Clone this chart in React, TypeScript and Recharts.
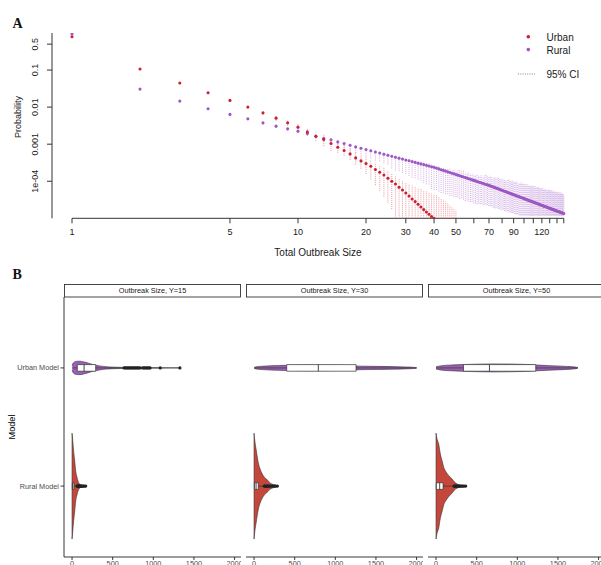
import React from 'react';
import { ComposedChart, Scatter, XAxis, YAxis, ErrorBar, ReferenceLine, Area, Line } from 'recharts';

// ---------------- Panel A data ----------------
const outbreakSizes = [
  1, 2, 3, 4, 5, 6, 7, 8, 9, 10, 11, 12, 13, 14, 15, 16, 17, 18, 19, 20,
  21, 22, 23, 24, 25, 26, 27, 28, 29, 30, 31, 32, 33, 34, 35, 36, 37, 38, 39, 40,
  41, 42, 43, 44, 45, 46, 47, 48, 49, 50, 51, 52, 53, 54, 55, 56, 57, 58, 59, 60,
  61, 62, 63, 64, 65, 66, 67, 68, 69, 70, 71, 72, 73, 74, 75, 76, 77, 78, 79, 80,
  81, 82, 83, 84, 85, 86, 87, 88, 89, 90, 91, 92, 93, 94, 95, 96, 97, 98, 99, 100,
  101, 102, 103, 104, 105, 106, 107, 108, 109, 110, 111, 112, 113, 114, 115, 116, 117, 118, 119, 120,
  121, 122, 123, 124, 125, 126, 127, 128, 129, 130, 131, 132, 133, 134, 135, 136, 137, 138, 139, 140,
  141, 142, 143, 144, 145, 146, 147, 148, 149, 150,
];

// log10(probability)
const urbanLog10P = [
  -0.100, -0.973, -1.351, -1.613, -1.819, -2.000, -2.154, -2.297, -2.424, -2.541,
  -2.668, -2.784, -2.873, -2.981, -3.081, -3.170, -3.262, -3.370, -3.451, -3.522,
  -3.595, -3.684, -3.757, -3.830, -3.919, -4.000, -4.073, -4.162, -4.235, -4.316,
  -4.397, -4.478, -4.549, -4.622, -4.695, -4.765, -4.830, -4.892, -4.954, -5.000,
  -5.06, -5.12, -5.18, -5.23, -5.29, -5.34, -5.39, -5.45, -5.50, -5.55,
];
const urbanCiUp = [
  0.01, 0.01, 0.01, 0.01, 0.01, 0.01, 0.05, 0.07, 0.06, 0.08,
  0.09, 0.10, 0.15, 0.13, 0.14, 0.15, 0.14, 0.16, 0.15, 0.17,
  0.16, 0.18, 0.17, 0.19, 0.18, 0.20, 0.21, 0.22, 0.24, 0.26,
  0.32, 0.36, 0.40, 0.44, 0.48, 0.52, 0.55, 0.58, 0.62, 0.65,
  0.68, 0.70, 0.72, 0.73, 0.74, 0.74, 0.73, 0.74, 0.74, 0.76,
];
const urbanCiDown = [
  0.01, 0.01, 0.01, 0.01, 0.01, 0.01, 0.06, 0.08, 0.08, 0.10,
  0.11, 0.13, 0.18, 0.20, 0.15, 0.14, 0.16, 0.18, 0.21, 0.28,
  0.36, 0.42, 0.50, 0.59, 0.66, 0.75, 0.88, 1.05, 1.40, 2.00,
  2.5, 2.5, 2.5, 2.5, 2.5, 2.5, 2.5, 2.5, 2.5, 2.5,
  2.5, 2.5, 2.5, 2.5, 2.5, 2.5, 2.5, 2.5, 2.5, 2.5,
];

const ruralLog10P = [
  -0.027, -1.514, -1.838, -2.046, -2.197, -2.316, -2.424, -2.514, -2.586, -2.649,
  -2.711, -2.784, -2.838, -2.883, -2.938, -2.981, -3.027, -3.073, -3.108, -3.143,
  -3.177, -3.209, -3.240, -3.270, -3.298, -3.325, -3.351, -3.377, -3.401, -3.425,
  -3.447, -3.470, -3.491, -3.512, -3.532, -3.551, -3.571, -3.589, -3.607, -3.625,
  -3.646, -3.667, -3.688, -3.708, -3.727, -3.746, -3.765, -3.783, -3.801, -3.819,
  -3.836, -3.853, -3.869, -3.886, -3.902, -3.917, -3.933, -3.948, -3.963, -3.977,
  -3.991, -4.006, -4.019, -4.033, -4.047, -4.060, -4.073, -4.086, -4.098, -4.111,
  -4.125, -4.139, -4.153, -4.166, -4.180, -4.193, -4.206, -4.219, -4.232, -4.244,
  -4.257, -4.269, -4.281, -4.293, -4.305, -4.317, -4.328, -4.340, -4.351, -4.362,
  -4.373, -4.384, -4.395, -4.405, -4.416, -4.427, -4.437, -4.447, -4.457, -4.467,
  -4.477, -4.487, -4.497, -4.506, -4.516, -4.525, -4.535, -4.544, -4.553, -4.562,
  -4.571, -4.580, -4.589, -4.598, -4.607, -4.615, -4.624, -4.633, -4.641, -4.649,
  -4.658, -4.666, -4.674, -4.682, -4.690, -4.698, -4.706, -4.714, -4.722, -4.729,
  -4.737, -4.745, -4.752, -4.760, -4.767, -4.774, -4.782, -4.789, -4.796, -4.803,
  -4.810, -4.818, -4.824, -4.832, -4.838, -4.845, -4.852, -4.859, -4.865, -4.872,
];
const ruralCiUp = [
  0.01, 0.01, 0.01, 0.01, 0.01, 0.01, 0.03, 0.03, 0.03, 0.03,
  0.03, 0.03, 0.04, 0.04, 0.04, 0.04, 0.04, 0.04, 0.04, 0.04,
  0.05, 0.05, 0.05, 0.05, 0.05, 0.03, 0.04, 0.03, 0.05, 0.04,
  0.05, 0.06, 0.05, 0.04, 0.06, 0.07, 0.08, 0.07, 0.06, 0.07,
  0.05, 0.08, 0.06, 0.07, 0.05, 0.10, 0.12, 0.09, 0.11, 0.10,
  0.14, 0.16, 0.15, 0.17, 0.13, 0.15, 0.16, 0.14, 0.17, 0.15,
  0.16, 0.18, 0.15, 0.18, 0.20, 0.17, 0.24, 0.26, 0.23, 0.25,
  0.27, 0.24, 0.26, 0.25, 0.28, 0.28, 0.30, 0.27, 0.29, 0.31,
  0.28, 0.30, 0.29, 0.32, 0.34, 0.36, 0.33, 0.35, 0.37, 0.34,
  0.36, 0.35, 0.38, 0.34, 0.36, 0.38, 0.40, 0.37, 0.39, 0.41,
  0.38, 0.40, 0.39, 0.42, 0.38, 0.40, 0.41, 0.42, 0.44, 0.41,
  0.43, 0.45, 0.42, 0.44, 0.43, 0.46, 0.42, 0.44, 0.45, 0.43,
  0.47, 0.44, 0.46, 0.45, 0.48, 0.44, 0.46, 0.47, 0.48, 0.50,
  0.47, 0.49, 0.51, 0.48, 0.50, 0.49, 0.52, 0.48, 0.50, 0.51,
  0.49, 0.53, 0.50, 0.52, 0.51, 0.54, 0.50, 0.52, 0.51, 0.50,
];
const ruralCiDown = [
  0.01, 0.01, 0.01, 0.01, 0.01, 0.01, 0.05, 0.05, 0.05, 0.05,
  0.05, 0.05, 0.10, 0.11, 0.10, 0.12, 0.15, 0.17, 0.16, 0.18,
  0.21, 0.23, 0.22, 0.24, 0.25, 0.33, 0.36, 0.34, 0.37, 0.38,
  0.41, 0.43, 0.42, 0.44, 0.45, 0.49, 0.51, 0.50, 0.60, 0.62,
  0.59, 0.61, 0.63, 0.60, 0.62, 0.60, 0.63, 0.61, 0.62, 0.60,
  0.60, 0.62, 0.59, 0.61, 0.63, 0.60, 0.62, 0.61, 0.59, 0.62,
  0.60, 0.61, 0.58, 0.58, 0.57, 0.59, 0.55, 0.57, 0.54, 0.56,
  0.55, 0.53, 0.56, 0.54, 0.55, 0.52, 0.54, 0.51, 0.53, 0.52,
  0.50, 0.53, 0.51, 0.52, 0.50, 0.52, 0.49, 0.51, 0.50, 0.48,
  0.51, 0.49, 0.50, 0.48, 0.50, 0.49, 0.48, 0.47, 0.46, 0.45,
  0.44, 0.43, 0.42, 0.41, 0.40, 0.40, 0.39, 0.38, 0.37, 0.36,
  0.35, 0.34, 0.33, 0.32, 0.31, 0.31, 0.30, 0.29, 0.28, 0.27,
  0.26, 0.25, 0.25, 0.24, 0.23, 0.22, 0.21, 0.21, 0.20, 0.19,
  0.18, 0.18, 0.17, 0.16, 0.15, 0.15, 0.14, 0.13, 0.12, 0.12,
  0.11, 0.10, 0.10, 0.09, 0.08, 0.08, 0.07, 0.06, 0.06, 0.05,
];

const sizeTicks = [1, 5, 10, 20, 30, 40, 50, 60, 70, 80, 90, 100, 110, 120, 130, 140, 150];
const sizeTickLabels = ['1', '5', '10', '20', '30', '40', '50', '', '70', '', '90', '', '', '120', '', '', ''];
const probTicks = [0.5, 0.1, 0.01, 0.001, 0.0001];
const probTickLabels = ['0.5', '0.1', '0.01', '0.001', '1e-04'];
const PROB_MIN = 1e-5;
const PROB_MAX = 1;

// ---------------- Panel B data ----------------
const facetLabels = ['Outbreak Size, Y=15', 'Outbreak Size, Y=30', 'Outbreak Size, Y=50'];
const modelCategories = ['Rural Model', 'Urban Model']; // y = 1, 2
const valueTicks = [0, 500, 1000, 1500, 2000];

// violin outlines: outbreak value -> half width (category units)
const urbanY15Values = [2, 8, 20, 40, 80, 120, 170, 220, 280, 340, 420, 500, 600, 700, 800, 900, 1000, 1100, 1200, 1327];
const urbanY15Widths = [0.018, 0.033, 0.045, 0.053, 0.057, 0.055, 0.047, 0.036, 0.025, 0.017, 0.010, 0.0068, 0.005, 0.0042, 0.0038, 0.0034, 0.0025, 0.0021, 0.0017, 0.0008];
const urbanY30Values = [2, 30, 100, 200, 300, 400, 600, 800, 1000, 1200, 1300, 1500, 1700, 1850, 1950, 2000];
const urbanY30Widths = [0.005, 0.010, 0.014, 0.018, 0.020, 0.022, 0.024, 0.024, 0.022, 0.019, 0.015, 0.013, 0.011, 0.0085, 0.006, 0.0025];
const urbanY50Values = [0, 50, 150, 300, 500, 700, 900, 1100, 1250, 1400, 1550, 1650, 1720, 1745];
const urbanY50Widths = [0.010, 0.017, 0.023, 0.028, 0.032, 0.034, 0.033, 0.030, 0.024, 0.019, 0.015, 0.011, 0.0068, 0.0025];

const ruralY15Values = [0, 4, 16, 33, 45, 60, 74, 98, 120, 145, 168];
const ruralY15Widths = [0.448, 0.423, 0.321, 0.212, 0.127, 0.076, 0.042, 0.014, 0.0085, 0.005, 0.0034];
const ruralY30Values = [0, 10, 25, 53, 75, 95, 125, 156, 200, 240, 287];
const ruralY30Widths = [0.448, 0.381, 0.313, 0.195, 0.144, 0.110, 0.076, 0.057, 0.025, 0.013, 0.0042];
const ruralY50Values = [0, 10, 33, 53, 75, 95, 125, 157, 198, 219, 260, 300, 365];
const ruralY50Widths = [0.448, 0.406, 0.355, 0.271, 0.212, 0.158, 0.118, 0.088, 0.059, 0.040, 0.017, 0.0085, 0.0034];

// box stats: [lower whisker, q1, median, q3, upper whisker]
const urbanBoxY15 = [5, 65, 148, 291, 625];
const urbanBoxY30 = [2, 402, 791, 1255, 2000];
const urbanBoxY50 = [0, 338, 657, 1227, 1745];
const ruralBoxY15 = [0, 3, 10, 25, 60];
const ruralBoxY30 = [0, 5, 25, 52, 120];
const ruralBoxY50 = [0, 3, 45, 86, 215];

const urbanOutliersY15 = [640, 655, 670, 685, 700, 715, 730, 745, 760, 775, 790, 805, 820, 837, 868, 885, 900, 915, 930, 945, 960, 1085, 1327];
const urbanOutliersY30: number[] = [];
const urbanOutliersY50: number[] = [];
const ruralOutliersY15 = [62, 66, 70, 75, 80, 86, 92, 98, 105, 112, 120, 130, 142, 155, 168];
const ruralOutliersY30 = [125, 132, 140, 150, 160, 170, 182, 195, 210, 228, 248, 265, 287];
const ruralOutliersY50 = [220, 228, 236, 245, 255, 265, 276, 288, 300, 315, 330, 345, 365];

// ---------------- styling ----------------
const SANS = '"Liberation Sans", Arial, Helvetica, sans-serif';
const SERIF = '"Liberation Serif", "Times New Roman", serif';
const URBAN_RED = '#cc1f30';
const RURAL_PURPLE = '#9d58c2';
const URBAN_CI = '#e3838f';
const RURAL_CI = '#c79ede';
const VIOLIN_PURPLE = '#9d5fb6';
const VIOLIN_RED = '#c5463b';
const OUTLINE = '#333333';

// CI bounds are limited to the visible probability range (the plot region clips them in the original)
const buildRows = (logs: number[], up: number[], down: number[]) =>
  logs.map((lp, i) => {
    const p = Math.pow(10, lp);
    const lo = Math.max(Math.pow(10, lp - down[i]), PROB_MIN);
    const hi = Math.max(Math.pow(10, lp + up[i]), PROB_MIN);
    return { s: outbreakSizes[i], p, ci: [p - lo, hi - p] };
  });

const urbanRows = buildRows(urbanLog10P, urbanCiUp, urbanCiDown);
const ruralRows = buildRows(ruralLog10P, ruralCiUp, ruralCiDown);

const dotShape = (color: string, r: number) => (props: any) =>
  props.cx == null ? <g /> : <circle cx={props.cx} cy={props.cy} r={r} fill={color} />;

const ProbTick = (props: any) => {
  const { x, y, payload } = props;
  const idx = probTicks.indexOf(payload.value);
  return (
    <text
      transform={`translate(${x},${y}) rotate(-90)`}
      textAnchor="middle"
      fontSize={9}
      fill="#1a1a1a"
      fontFamily={SANS}
    >
      {idx >= 0 ? probTickLabels[idx] : ''}
    </text>
  );
};

const ModelTick = (props: any) => {
  const { x, y, payload } = props;
  return (
    <text x={x} y={y} dy="0.35em" textAnchor="end" fontSize={7.3} fill="#4d4d4d" fontFamily={SANS}>
      {modelCategories[payload.value - 1] || ''}
    </text>
  );
};

function PanelA() {
  return (
    <ComposedChart width={601} height={262} margin={{ top: 33, right: 17.5, bottom: 13.7, left: 0 }}>
      <XAxis
        type="number"
        dataKey="s"
        scale="log"
        domain={[0.8156, 183.4]}
        allowDataOverflow
        ticks={sizeTicks}
        interval={0}
        height={30}
        axisLine={false}
        tickLine={{ stroke: OUTLINE, strokeWidth: 1 }}
        tickSize={5}
        tickMargin={5}
        tick={{ fontSize: 9, fill: '#1a1a1a', fontFamily: SANS }}
        tickFormatter={(v: number) => {
          const i = sizeTicks.indexOf(v);
          return i >= 0 ? sizeTickLabels[i] : '';
        }}
      />
      <YAxis
        type="number"
        scale="log"
        domain={[PROB_MIN, PROB_MAX]}
        allowDataOverflow
        ticks={probTicks}
        interval={0}
        width={52}
        axisLine={{ stroke: OUTLINE, strokeWidth: 1 }}
        tickLine={{ stroke: OUTLINE, strokeWidth: 1 }}
        tickSize={5}
        tickMargin={9.5}
        tick={<ProbTick />}
      />
      <ReferenceLine
        segment={[{ x: 1, y: PROB_MIN }, { x: 150, y: PROB_MIN }]}
        stroke={OUTLINE}
        strokeWidth={1}
        ifOverflow="visible"
      />
      <Scatter data={ruralRows} dataKey="p" isAnimationActive={false} shape={dotShape(RURAL_PURPLE, 1.55)}>
        <ErrorBar dataKey="ci" direction="y" width={0} stroke={RURAL_CI} strokeWidth={0.8} strokeDasharray="1 1" />
      </Scatter>
      <Scatter data={urbanRows} dataKey="p" isAnimationActive={false} shape={dotShape(URBAN_RED, 1.55)}>
        <ErrorBar dataKey="ci" direction="y" width={0} stroke={URBAN_CI} strokeWidth={0.8} strokeDasharray="1 1" />
      </Scatter>
    </ComposedChart>
  );
}

const BOX_HALF = 0.028;

function Facet(props: any) {
  const { showY, uV, uW, rV, rW, uBox, rBox, uOut, rOut } = props;
  const U = 2;
  const R = 1;
  const violin = (vals: number[], ws: number[], c: number) => vals.map((v, i) => ({ v, band: [c - ws[i], c + ws[i]] }));
  const boxFill = (b: number[], c: number) => [
    { v: b[1], band: [c - BOX_HALF, c + BOX_HALF] },
    { v: b[3], band: [c - BOX_HALF, c + BOX_HALF] },
  ];
  const boxOutline = (b: number[], c: number) => [
    { v: b[1], y: c - BOX_HALF },
    { v: b[3], y: c - BOX_HALF },
    { v: b[3], y: c + BOX_HALF },
    { v: b[1], y: c + BOX_HALF },
    { v: b[1], y: c - BOX_HALF },
  ];
  const median = (b: number[], c: number) => [
    { v: b[2], y: c - BOX_HALF },
    { v: b[2], y: c + BOX_HALF },
  ];
  const whiskerLo = (b: number[], c: number) => [{ v: b[0], y: c }, { v: b[1], y: c }];
  const whiskerHi = (b: number[], c: number) => [{ v: b[3], y: c }, { v: b[4], y: c }];
  const pts = (arr: number[], c: number) => arr.map((v) => ({ v, y: c }));
  const ruralEdge = [
    { v: rV[0], y: R - rW[0] },
    { v: rV[0], y: R + rW[0] },
  ];
  const lineProps = { dataKey: 'y', dot: false, activeDot: false, isAnimationActive: false, type: 'linear' as const };

  return (
    <ComposedChart width={showY ? 241 : 177} height={280} margin={{ top: 0, right: 0, bottom: 0, left: 0 }}>
      <XAxis
        type="number"
        dataKey="v"
        domain={[-99, 2079]}
        allowDataOverflow
        ticks={valueTicks}
        interval={0}
        height={20}
        tickSize={3}
        tickMargin={1}
        axisLine={{ stroke: '#222', strokeWidth: 0.9 }}
        tickLine={{ stroke: '#222', strokeWidth: 0.9 }}
        tick={{ fontSize: 7.3, fill: '#4d4d4d', fontFamily: SANS }}
      />
      <YAxis
        type="number"
        domain={[0.4, 2.6]}
        allowDataOverflow
        ticks={[1, 2]}
        interval={0}
        hide={!showY}
        width={64}
        tickSize={3.5}
        tickMargin={1.5}
        axisLine={{ stroke: '#222', strokeWidth: 0.9 }}
        tickLine={{ stroke: '#222', strokeWidth: 0.9 }}
        tick={<ModelTick />}
      />
      {/* Rural model violin + box */}
      <Area data={violin(rV, rW, R)} dataKey="band" type="monotoneX" fill={VIOLIN_RED} fillOpacity={1} stroke={OUTLINE} strokeWidth={0.6} isAnimationActive={false} activeDot={false} dot={false} />
      <Line data={ruralEdge} stroke={OUTLINE} strokeWidth={0.6} {...lineProps} />
      <Area data={boxFill(rBox, R)} dataKey="band" type="linear" fill="#ffffff" fillOpacity={1} stroke="none" isAnimationActive={false} activeDot={false} dot={false} />
      <Line data={whiskerLo(rBox, R)} stroke={OUTLINE} strokeWidth={0.7} {...lineProps} />
      <Line data={whiskerHi(rBox, R)} stroke={OUTLINE} strokeWidth={0.7} {...lineProps} />
      <Line data={boxOutline(rBox, R)} stroke={OUTLINE} strokeWidth={0.7} {...lineProps} />
      <Line data={median(rBox, R)} stroke={OUTLINE} strokeWidth={0.9} {...lineProps} />
      {/* Urban model violin + box */}
      <Area data={violin(uV, uW, U)} dataKey="band" type="monotoneX" fill={VIOLIN_PURPLE} fillOpacity={1} stroke={OUTLINE} strokeWidth={0.6} isAnimationActive={false} activeDot={false} dot={false} />
      <Area data={boxFill(uBox, U)} dataKey="band" type="linear" fill="#ffffff" fillOpacity={1} stroke="none" isAnimationActive={false} activeDot={false} dot={false} />
      <Line data={whiskerLo(uBox, U)} stroke={OUTLINE} strokeWidth={0.7} {...lineProps} />
      <Line data={whiskerHi(uBox, U)} stroke={OUTLINE} strokeWidth={0.7} {...lineProps} />
      <Line data={boxOutline(uBox, U)} stroke={OUTLINE} strokeWidth={0.7} {...lineProps} />
      <Line data={median(uBox, U)} stroke={OUTLINE} strokeWidth={0.9} {...lineProps} />
      {/* outliers */}
      <Scatter data={pts(rOut, R)} dataKey="y" isAnimationActive={false} shape={dotShape('#222222', 1.6)} />
      <Scatter data={pts(uOut, U)} dataKey="y" isAnimationActive={false} shape={dotShape('#222222', 1.6)} />
    </ComposedChart>
  );
}

const facetLefts = [64, 246, 428];
const FACET_W = 177;

export default function App() {
  return (
    <div
      style={{
        position: 'absolute',
        left: 0,
        top: 0,
        width: 601,
        height: 565,
        overflow: 'hidden',
        background: '#ffffff',
        fontFamily: SANS,
      }}
    >
      <div style={{ position: 'absolute', left: 0, top: 0 }}>
        <PanelA />
      </div>
      <div style={{ position: 'absolute', left: 0, top: 297 }}>
        <Facet showY uV={urbanY15Values} uW={urbanY15Widths} rV={ruralY15Values} rW={ruralY15Widths} uBox={urbanBoxY15} rBox={ruralBoxY15} uOut={urbanOutliersY15} rOut={ruralOutliersY15} />
      </div>
      <div style={{ position: 'absolute', left: 246, top: 297 }}>
        <Facet showY={false} uV={urbanY30Values} uW={urbanY30Widths} rV={ruralY30Values} rW={ruralY30Widths} uBox={urbanBoxY30} rBox={ruralBoxY30} uOut={urbanOutliersY30} rOut={ruralOutliersY30} />
      </div>
      <div style={{ position: 'absolute', left: 428, top: 297 }}>
        <Facet showY={false} uV={urbanY50Values} uW={urbanY50Widths} rV={ruralY50Values} rW={ruralY50Widths} uBox={urbanBoxY50} rBox={ruralBoxY50} uOut={urbanOutliersY50} rOut={ruralOutliersY50} />
      </div>
      <svg width={601} height={565} style={{ position: 'absolute', left: 0, top: 0, pointerEvents: 'none' }}>
        <text x={12.5} y={28} fontFamily={SERIF} fontWeight="bold" fontSize={14} fill="#111">A</text>
        <text x={12.5} y={278.5} fontFamily={SERIF} fontWeight="bold" fontSize={14} fill="#111">B</text>
        <text transform="translate(21,117) rotate(-90)" textAnchor="middle" fontSize={9} fill="#1a1a1a" fontFamily={SANS}>Probability</text>
        <text x={318} y={256} textAnchor="middle" fontSize={10} fill="#1a1a1a" fontFamily={SANS}>Total Outbreak Size</text>
        {/* legend */}
        <circle cx={528.3} cy={36.8} r={1.8} fill={URBAN_RED} />
        <text x={546.5} y={40.8} fontSize={10} fill="#1a1a1a" fontFamily={SANS}>Urban</text>
        <circle cx={528.3} cy={49.6} r={1.8} fill={RURAL_PURPLE} />
        <text x={546.5} y={53.6} fontSize={10} fill="#1a1a1a" fontFamily={SANS}>Rural</text>
        <line x1={518} x2={535} y1={74} y2={74} stroke="#777" strokeWidth={0.9} strokeDasharray="1 1.3" />
        <text x={546.5} y={77.8} fontSize={10} fill="#1a1a1a" fontFamily={SANS}>95% CI</text>
        {/* panel B labels */}
        <text transform="translate(15,427) rotate(-90)" textAnchor="middle" fontSize={9.2} fill="#000" fontFamily={SANS}>Model</text>
        {facetLabels.map((lab, i) => (
          <g key={lab}>
            <rect x={facetLefts[i] + 0.5} y={284.5} width={FACET_W - 1} height={12.5} fill="#fff" stroke="#333" strokeWidth={0.9} />
            <text x={facetLefts[i] + FACET_W / 2} y={293.4} textAnchor="middle" fontSize={7.3} fill="#1a1a1a" fontFamily={SANS}>{lab}</text>
          </g>
        ))}
      </svg>
    </div>
  );
}
